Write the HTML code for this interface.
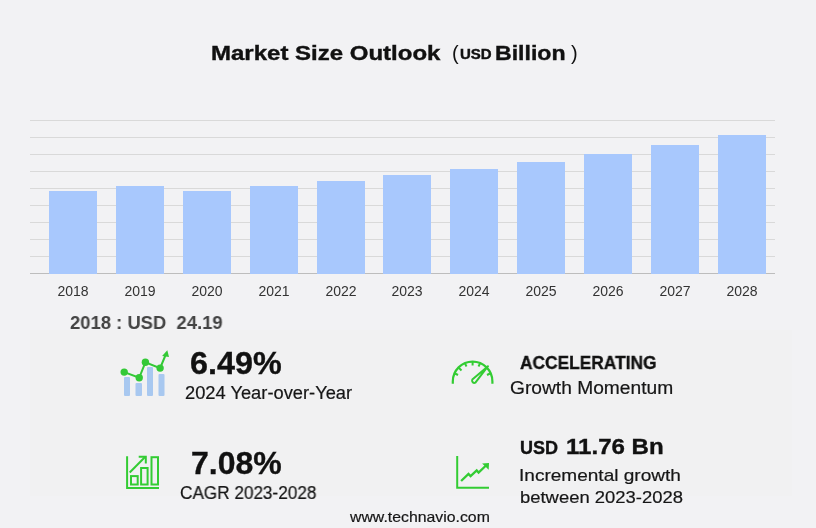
<!DOCTYPE html>
<html><head><meta charset="utf-8">
<style>
html,body{margin:0;padding:0;}
body{-webkit-font-smoothing:antialiased;width:816px;height:528px;background:#f2f2f4;position:relative;overflow:hidden;font-family:"Liberation Sans",sans-serif;}
.t{position:absolute;white-space:nowrap;line-height:1;will-change:transform;}
.b{font-weight:bold;}
.grid{position:absolute;left:30px;width:745px;height:1px;background:#d9d9d9;}
.bar{position:absolute;width:48px;background:#a8c8fd;}
.yr{position:absolute;will-change:transform;width:60px;text-align:center;font-size:14px;color:#333;line-height:1;}
.panel{position:absolute;left:30px;top:330px;width:762px;height:166px;background:#f1f1f2;}
</style></head><body>
<div class="t b" style="left:211px;top:41.5px;font-size:21px;color:#111;-webkit-text-stroke:0.4px #111;transform:scaleX(1.143);transform-origin:0 0;">Market Size Outlook</div>
<div class="t" style="left:451.5px;top:42.5px;font-size:20px;color:#111;">(</div>
<div class="t b" style="left:459.5px;top:46px;font-size:15px;color:#111;-webkit-text-stroke:0.4px #111;transform:scaleX(1.0);transform-origin:0 0;">USD</div>
<div class="t b" style="left:495px;top:41.5px;font-size:21px;color:#111;-webkit-text-stroke:0.4px #111;transform:scaleX(1.1);transform-origin:0 0;">Billion</div>
<div class="t" style="left:570.5px;top:42.5px;font-size:20px;color:#111;">)</div>

<div class="grid" style="top:120px"></div>
<div class="grid" style="top:137px"></div>
<div class="grid" style="top:154px"></div>
<div class="grid" style="top:171px"></div>
<div class="grid" style="top:188px"></div>
<div class="grid" style="top:205px"></div>
<div class="grid" style="top:222px"></div>
<div class="grid" style="top:239px"></div>
<div class="grid" style="top:256px"></div>
<div class="grid" style="top:273px;background:#bdbdbd"></div>

<div class="bar" style="left:49px;top:191px;height:83px"></div>
<div class="bar" style="left:116px;top:186px;height:88px"></div>
<div class="bar" style="left:183px;top:191px;height:83px"></div>
<div class="bar" style="left:250px;top:186px;height:88px"></div>
<div class="bar" style="left:317px;top:181px;height:93px"></div>
<div class="bar" style="left:383px;top:175px;height:99px"></div>
<div class="bar" style="left:450px;top:169px;height:105px"></div>
<div class="bar" style="left:517px;top:162px;height:112px"></div>
<div class="bar" style="left:584px;top:154px;height:120px"></div>
<div class="bar" style="left:651px;top:145px;height:129px"></div>
<div class="bar" style="left:718px;top:135px;height:139px"></div>

<div class="yr" style="left:43px;top:284px">2018</div>
<div class="yr" style="left:110px;top:284px">2019</div>
<div class="yr" style="left:177px;top:284px">2020</div>
<div class="yr" style="left:244px;top:284px">2021</div>
<div class="yr" style="left:311px;top:284px">2022</div>
<div class="yr" style="left:377px;top:284px">2023</div>
<div class="yr" style="left:444px;top:284px">2024</div>
<div class="yr" style="left:511px;top:284px">2025</div>
<div class="yr" style="left:578px;top:284px">2026</div>
<div class="yr" style="left:645px;top:284px">2027</div>
<div class="yr" style="left:712px;top:284px">2028</div>

<div class="panel"></div>
<div class="t b" style="left:69.5px;top:313px;font-size:19px;color:#444;transform:scaleX(0.97);transform-origin:0 0;">2018 : USD&nbsp; 24.19</div>

<div class="t b" style="-webkit-text-stroke:0.35px #111;left:190px;top:347px;font-size:32px;color:#111;transform:scaleX(1.01);transform-origin:0 0;">6.49%</div>
<div class="t" style="-webkit-text-stroke:0.2px #161616;left:185px;top:385px;font-size:17.5px;color:#161616;transform:scaleX(1.045);transform-origin:0 0;">2024 Year-over-Year</div>

<div class="t b" style="-webkit-text-stroke:0.35px #111;left:519.5px;top:353.5px;font-size:18px;color:#111;transform:scaleX(0.963);transform-origin:0 0;">ACCELERATING</div>
<div class="t" style="-webkit-text-stroke:0.2px #161616;left:510px;top:379px;font-size:18px;color:#161616;transform:scaleX(1.066);transform-origin:0 0;">Growth Momentum</div>

<div class="t b" style="-webkit-text-stroke:0.35px #111;left:190.5px;top:447px;font-size:32px;color:#111;transform:scaleX(0.998);transform-origin:0 0;">7.08%</div>
<div class="t" style="-webkit-text-stroke:0.2px #161616;left:180px;top:485px;font-size:17.5px;color:#161616;transform:scaleX(0.98);transform-origin:0 0;">CAGR 2023-2028</div>

<div class="t b" style="-webkit-text-stroke:0.35px #111;left:519.5px;top:439px;font-size:18px;color:#111;">USD</div>
<div class="t b" style="-webkit-text-stroke:0.35px #111;left:565.5px;top:436.5px;font-size:21.5px;color:#111;transform:scaleX(1.12);transform-origin:0 0;">11.76 Bn</div>
<div class="t" style="-webkit-text-stroke:0.2px #161616;left:519px;top:467px;font-size:17px;color:#161616;transform:scaleX(1.12);transform-origin:0 0;">Incremental growth</div>
<div class="t" style="-webkit-text-stroke:0.2px #161616;left:520px;top:489px;font-size:17px;color:#161616;transform:scaleX(1.084);transform-origin:0 0;">between 2023-2028</div>

<div class="t" style="-webkit-text-stroke:0.2px #161616;left:350px;top:508.5px;font-size:15px;color:#161616;transform:scaleX(1.055);transform-origin:0 0;">www.technavio.com</div>

<!-- icon 1 -->
<svg style="position:absolute;left:0;top:0" width="816" height="528">
  <g fill="#a8c8f0">
    <rect rx="1" x="124" y="377" width="6" height="19"/>
    <rect rx="1" x="135.5" y="383" width="6.5" height="13"/>
    <rect rx="1" x="147" y="367" width="6" height="29"/>
    <rect rx="1" x="158.5" y="374" width="6" height="22"/>
  </g>
  <g stroke="#33c936" stroke-width="2" fill="none">
    <polyline points="124.2,372.1 139.2,377.8 145.4,362.3 160.1,368.1 166,354"/>
  </g>
  <g fill="#33c936">
    <circle cx="124.2" cy="372.1" r="3.7"/>
    <circle cx="139.2" cy="377.8" r="3.7"/>
    <circle cx="145.4" cy="362.3" r="3.7"/>
    <circle cx="160.1" cy="368.1" r="3.7"/>
    <polygon points="167.3,350.3 162.1,355.9 169,357"/>
  </g>
  <!-- gauge -->
  <g stroke="#33cc33" stroke-width="2.2" fill="none">
    <path d="M452.8,383.8 L452.8,381.4 A19.8,19.8 0 0 1 492.4,381.4 L492.4,383.8"/>
    <path d="M488,366.2 L472.3,379.6 A2.3,2.3 0 0 0 475.4,382.7 Z" stroke-linejoin="round" stroke-width="2"/>
  </g>
  <g stroke="#33cc33" stroke-width="2" fill="none">
    <line x1="455" y1="373.5" x2="458" y2="375"/>
    <line x1="459" y1="368" x2="461.5" y2="370.5"/>
    <line x1="465" y1="363.5" x2="466.5" y2="366.5"/>
    <line x1="472.6" y1="362" x2="472.6" y2="365.5"/>
    <line x1="480" y1="363.5" x2="478.5" y2="366.5"/>
    <line x1="490" y1="373.5" x2="487" y2="375"/>
  </g>
  <!-- CAGR icon -->
  <g stroke="#33cc33" stroke-width="2" fill="none">
    <polyline points="127.1,456.2 127.1,488 159,488"/>
    <rect x="131" y="476.1" width="6.7" height="8.4"/>
    <rect x="141.1" y="468" width="6.5" height="16.5"/>
    <rect x="151.5" y="457.2" width="6.5" height="27.3"/>
    <line x1="129.7" y1="472.5" x2="145.3" y2="456.8"/>
    <polyline points="138.7,456.8 145.8,456.8 145.8,463.5"/>
  </g>
  <!-- incremental icon -->
  <g stroke="#33cc33" stroke-width="2" fill="none">
    <polyline points="457.2,455.9 457.2,487.7 489,487.7"/>
    <polyline points="461.1,481 468.5,473.9 470.6,476.2 476.7,470.4 478.6,472.5 486,465.5" stroke-width="2.3"/>
  </g>
  <polygon fill="#33cc33" points="489,463 482.1,463.5 488.7,469.8"/>
</svg>
</body></html>
